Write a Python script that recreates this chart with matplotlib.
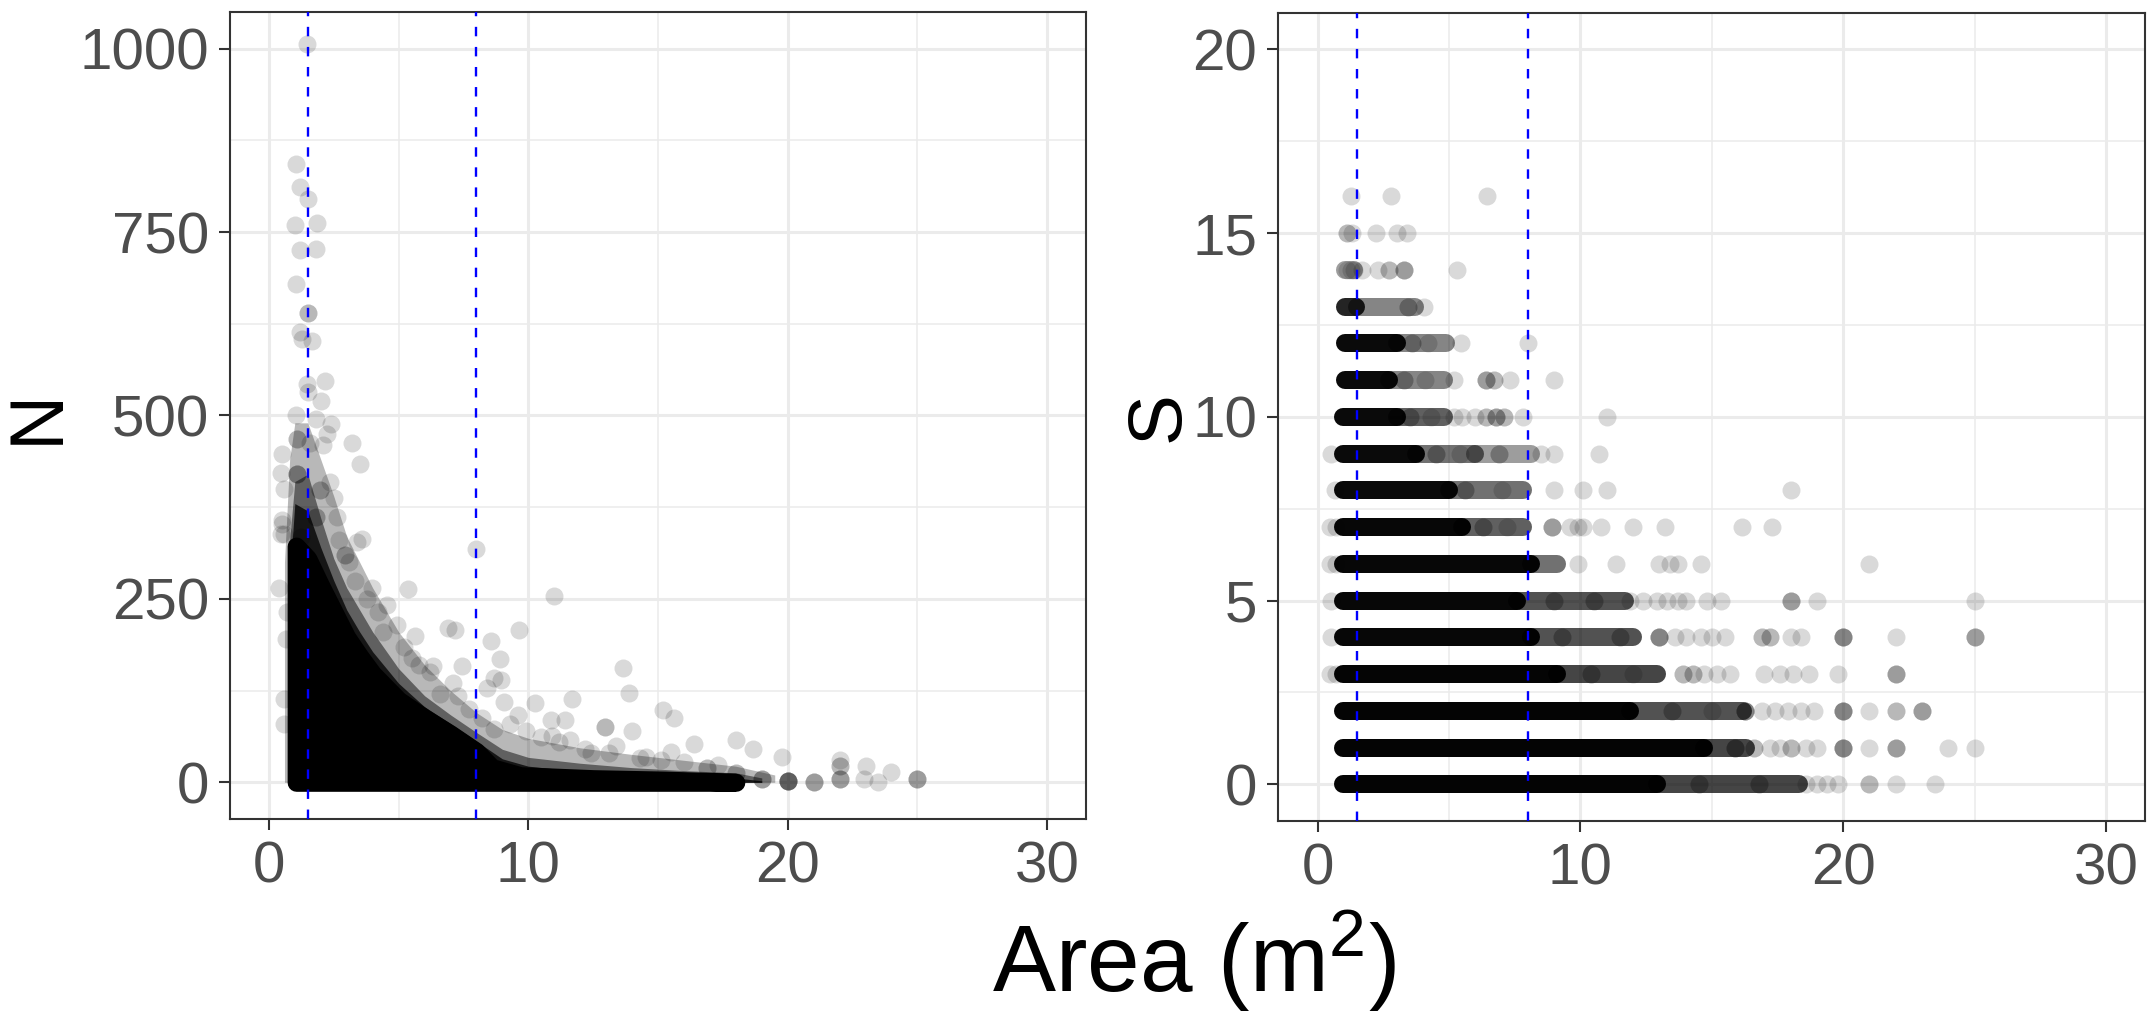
import matplotlib
matplotlib.use("Agg")
import matplotlib.pyplot as plt
from matplotlib.ticker import MultipleLocator

plt.rcParams['font.family'] = ['Liberation Sans', 'DejaVu Sans']
plt.rcParams['mathtext.fontset'] = 'custom'
plt.rcParams['mathtext.rm'] = 'Liberation Sans'
plt.rcParams['mathtext.it'] = 'Liberation Sans:italic'

# cut-offs on area (m2)
cut_lines = [1.5, 8.0]

# ---- left panel: N vs area ----
# dense cloud, drawn as stacked envelopes (upper N reached at each area)
core_area = [1.05, 1.5, 2.0, 2.5, 3.0, 3.5, 4.0, 5.0, 6.0, 7.0, 8.0, 8.6, 9.7, 12.5, 15.3, 18.0]
core_n = [322, 305, 268, 233, 198, 172, 148, 112, 88, 66, 42, 20, 9, 5, 3, 0]
inner_area = [0.9, 1.0, 1.5, 2.0, 2.5, 3.0, 3.5, 4.0, 5.0, 6.0, 7.0, 8.0, 9.0, 10.0, 12.0, 14.0, 16.0, 18.0, 19.0]
inner_n = [330, 380, 370, 320, 275, 235, 205, 178, 135, 103, 80, 56, 32, 22, 15, 11, 9, 6, 2]
mid_area = [0.8, 1.0, 1.5, 2.0, 2.5, 3.0, 3.5, 4.0, 5.0, 6.0, 7.0, 8.0, 9.0, 10.0, 12.0, 14.0, 16.0, 18.0, 19.0]
mid_n = [330, 410, 420, 360, 305, 265, 235, 205, 155, 118, 92, 68, 45, 34, 26, 20, 16, 13, 6]
halo_area = [0.6, 0.8, 1.0, 1.5, 2.0, 2.5, 3.0, 3.5, 4.0, 5.0, 6.0, 7.0, 8.0, 9.0, 10.0, 12.0, 14.0, 16.0, 18.0, 19.5]
halo_n = [300, 440, 490, 490, 440, 390, 335, 300, 265, 205, 160, 125, 95, 72, 60, 47, 38, 30, 22, 10]
inner_count = 9
mid_count = 4
halo_count = 2

# single points outside the dense cloud (repeats = overlapping points)
n_pts_area = [1.46, 1.05, 1.18, 1.5, 1.0, 1.86, 1.18, 1.82, 1.05, 1.5, 1.5, 1.18, 1.26, 1.65,
              2.18, 1.45, 1.5, 2.02, 1.05, 1.83, 2.41, 3.2, 3.5, 2.24, 2.1, 1.6, 0.51, 1.1,
              1.1, 1.1, 1.1, 1.1, 0.46, 0.6, 1.98, 1.98, 2.36, 2.5, 2.63, 1.8, 1.8, 1.22,
              0.6, 0.5, 2.95, 2.95, 3.58, 3.4, 0.38, 0.68, 0.65, 0.6, 0.57, 0.46, 0.5,
              3.97, 5.37, 11.0, 4.57, 4.94, 5.63, 6.9, 7.18, 9.66, 8.58, 8.9, 13.66, 13.9,
              5.5, 6.34, 7.46, 8.67, 8.96, 7.1, 8.4, 9.05, 10.26, 11.7, 15.2, 15.6, 12.97,
              12.97, 14.0, 10.86, 11.4, 9.6, 8.67, 9.9, 10.9, 11.6, 12.4, 13.4, 14.55, 15.5,
              16.4, 18.0, 18.66, 19.78, 22.0, 22.0, 22.0, 23.0, 23.97, 25.0, 25.0, 25.0,
              23.5, 22.95, 22.0, 22.0, 22.0, 21.0, 21.0, 21.0, 20.0, 20.0, 20.0, 20.0, 20.0,
              20.0, 19.0, 19.0, 19.0, 18.0, 18.0, 16.9, 16.9, 7.97,
              2.7, 3.1, 3.3, 3.8, 4.2, 4.4, 5.2, 5.8, 6.2, 6.6, 7.3, 7.7, 8.2, 9.3,
              10.5, 11.2, 12.2, 13.1, 14.3, 15.1, 16.0, 17.3]
n_pts_n = [1006, 843, 812, 795, 759, 762, 726, 727, 679, 640, 640, 614, 604, 602,
           547, 543, 532, 520, 500, 495, 488, 463, 434, 475, 460, 462, 448, 468,
           468, 420, 420, 420, 422, 400, 398, 398, 409, 387, 362, 362, 362, 334,
           339, 352, 310, 310, 332, 327, 265, 232, 195, 114, 80, 338, 357,
           265, 264, 254, 242, 215, 199, 210, 208, 208, 193, 168, 156, 122,
           170, 158, 158, 142, 140, 135, 129, 110, 108, 113, 99, 88, 76,
           76, 70, 85, 85, 92, 72, 70, 63, 58, 40, 49, 35, 42,
           52, 58, 45, 35, 31, 22, 22, 22, 14, 4, 4, 4,
           0, 4, 4, 4, 4, 0, 0, 0, 2, 2, 2, 2, 2,
           2, 4, 4, 4, 13, 13, 20, 20, 318,
           330, 300, 275, 250, 232, 205, 185, 160, 150, 120, 118, 100, 88, 80,
           62, 55, 45, 40, 33, 30, 28, 24]

# ---- right panel: S vs area ----
# runs of densely packed points on each S level (n = overlapping points)
run_s = [14, 13, 13, 12, 12, 11, 11, 10, 10, 9, 9, 9, 8, 8, 7, 7, 6, 6, 5, 5, 4, 4, 3, 3, 2, 2, 1, 1, 0, 0]
run_x0 = [1.05, 1.05, 1.5, 1.05, 3.0, 1.05, 2.7, 0.95, 3.0, 0.95, 3.75, 6.0, 0.95, 5.0, 0.95, 5.5,
          0.95, 8.1, 0.95, 7.6, 0.95, 8.1, 0.95, 9.1, 0.95, 11.9, 0.95, 14.7, 0.95, 12.9]
run_x1 = [1.4, 1.45, 3.7, 3.0, 4.9, 2.7, 4.8, 3.0, 4.8, 3.75, 6.0, 8.1, 5.0, 7.8, 5.5, 7.8,
          8.1, 9.1, 7.6, 11.7, 8.1, 12.0, 9.1, 12.9, 11.9, 16.2, 14.7, 16.3, 12.9, 18.3]
run_n = [3, 12, 4, 20, 4, 20, 4, 20, 6, 20, 5, 3, 20, 5, 22, 6, 22, 5, 22, 7, 22, 7, 24, 8, 25, 7, 25, 8, 25, 8]

# single points on each S level (repeats = overlapping points)
s_levels = [16, 15, 14, 13, 12, 11, 10, 9, 8, 7, 6, 5, 4, 3, 2, 1, 0]
s_point_areas = [
    [1.28, 2.78, 6.45],
    [1.1, 1.1, 1.3, 2.2, 3.0, 3.4],
    [1.1, 1.25, 1.4, 1.7, 2.3, 2.7, 2.7, 3.3, 3.3, 3.3, 5.3],
    [3.45, 3.45, 4.05],
    [3.6, 3.6, 4.2, 5.45, 8.0],
    [3.3, 3.3, 4.1, 5.2, 6.4, 6.4, 6.4, 6.7, 6.7, 7.3, 9.0],
    [3.5, 3.5, 4.3, 5.2, 5.5, 6.0, 6.4, 6.4, 6.8, 6.8, 6.8, 7.1, 7.1, 7.8, 11.0],
    [0.5, 4.5, 4.5, 5.4, 6.9, 6.9, 8.5, 9.0, 10.7],
    [0.65, 5.6, 5.6, 7.0, 9.0, 10.1, 11.0, 18.0],
    [0.45, 0.7, 6.3, 6.3, 7.2, 8.9, 8.9, 8.9, 9.6, 9.9, 10.1, 10.8, 12.0, 13.2, 16.15, 17.3],
    [0.45, 0.7, 9.9, 11.35, 13.0, 13.4, 13.7, 14.6, 21.0],
    [0.5, 9.0, 9.0, 10.5, 10.5, 11.9, 12.4, 12.9, 13.3, 13.7, 14.0, 14.8, 15.35, 18.0, 18.0,
     18.0, 19.0, 25.0],
    [0.5, 9.3, 9.3, 11.5, 11.5, 13.0, 13.0, 13.0, 13.0, 13.6, 14.0, 14.6, 15.0, 15.5, 16.9,
     16.9, 17.2, 17.2, 18.0, 18.4, 20.0, 20.0, 20.0, 20.0, 22.0, 25.0, 25.0, 25.0],
    [0.45, 0.7, 10.4, 10.4, 12.0, 13.9, 13.9, 14.3, 14.3, 14.7, 15.2, 15.7, 17.0, 17.6, 18.1,
     18.7, 19.8, 22.0, 22.0, 22.0],
    [13.5, 13.5, 15.0, 16.25, 16.25, 16.25, 16.25, 16.9, 17.4, 17.9, 18.4, 18.9, 20.0, 20.0,
     20.0, 20.0, 21.0, 22.0, 22.0, 23.0, 23.0, 23.0],
    [15.9, 15.9, 15.9, 16.6, 16.6, 17.2, 17.6, 18.0, 18.0, 18.6, 19.0, 20.0, 20.0, 20.0,
     20.0, 21.0, 22.0, 22.0, 22.0, 24.0, 25.0],
    [14.5, 14.5, 16.8, 16.8, 18.6, 19.0, 19.4, 19.8, 21.0, 21.0, 22.0, 23.5],
]

ALPHA = 0.15
DOT = 12.96          # point diameter in pt
GRID = '#EBEBEB'
DARK = '#333333'


def stacked_alpha(n):
    return 1 - (1 - ALPHA) ** n


def style_axes(ax):
    ax.set_axisbelow(True)
    ax.grid(which='major', color=GRID, lw=2.2)
    ax.grid(which='minor', color=GRID, lw=1.1)
    for sp in ax.spines.values():
        sp.set_color(DARK)
        sp.set_linewidth(1.5)
    ax.tick_params(which='major', labelsize=42, labelcolor='#4D4D4D', color=DARK,
                   length=7.7, width=1.5, pad=7.5)
    ax.tick_params(which='minor', length=0)
    ax.set_xlim(-1.5, 31.5)
    ax.xaxis.set_major_locator(MultipleLocator(10))
    ax.xaxis.set_minor_locator(MultipleLocator(5))
    for x in cut_lines:
        ax.axvline(x, color='#0000FF', lw=1.7, ls=(0, (4, 4.5)), zorder=5)


fig = plt.figure(figsize=(21.52, 10.16), dpi=100)
W, H = 2152, 1016
ax1 = fig.add_axes([230 / W, 1 - 819 / H, (1086 - 230) / W, (819 - 12) / H])
ax2 = fig.add_axes([1278.3 / W, 1 - 821 / H, (2145.3 - 1278.3) / W, (821 - 12.7) / H])

# left panel
ax1.fill_between(halo_area, 0, halo_n, color='black', alpha=stacked_alpha(halo_count), lw=0)
ax1.fill_between(mid_area, 0, mid_n, color='black', alpha=stacked_alpha(mid_count), lw=0)
ax1.fill_between(inner_area, 0, inner_n, color='black', alpha=stacked_alpha(inner_count), lw=0)
core = ax1.fill_between(core_area, 0, core_n, facecolor='black', edgecolor='black', lw=DOT)
core.set_joinstyle('round')
ax1.scatter(n_pts_area, n_pts_n, s=DOT ** 2, color='black', alpha=ALPHA, lw=0)
ax1.set_ylim(-50, 1050)
ax1.yaxis.set_major_locator(MultipleLocator(250))
ax1.yaxis.set_minor_locator(MultipleLocator(125))
style_axes(ax1)

# right panel
order = sorted(range(len(run_s)), key=lambda i: run_n[i])
for i in order:
    ax2.plot([run_x0[i], run_x1[i]], [run_s[i], run_s[i]], color='black',
             alpha=stacked_alpha(run_n[i]), lw=DOT, solid_capstyle='round')
for s, areas in zip(s_levels, s_point_areas):
    ax2.scatter(areas, [s] * len(areas), s=DOT ** 2, color='black', alpha=ALPHA, lw=0)
ax2.set_ylim(-1, 21)
ax2.yaxis.set_major_locator(MultipleLocator(5))
ax2.yaxis.set_minor_locator(MultipleLocator(2.5))
style_axes(ax2)

fig.text(38 / W, 1 - 416 / H, 'N', rotation=90, ha='center', va='center', fontsize=55)
fig.text(1159 / W, 1 - 417 / H, 'S', rotation=90, ha='center', va='center', fontsize=55)
fig.text(1194 / W, 1 - 992 / H, r'Area (m$^{2}$)', ha='center', va='baseline', fontsize=68)

fig.savefig('out.png', dpi=100)
